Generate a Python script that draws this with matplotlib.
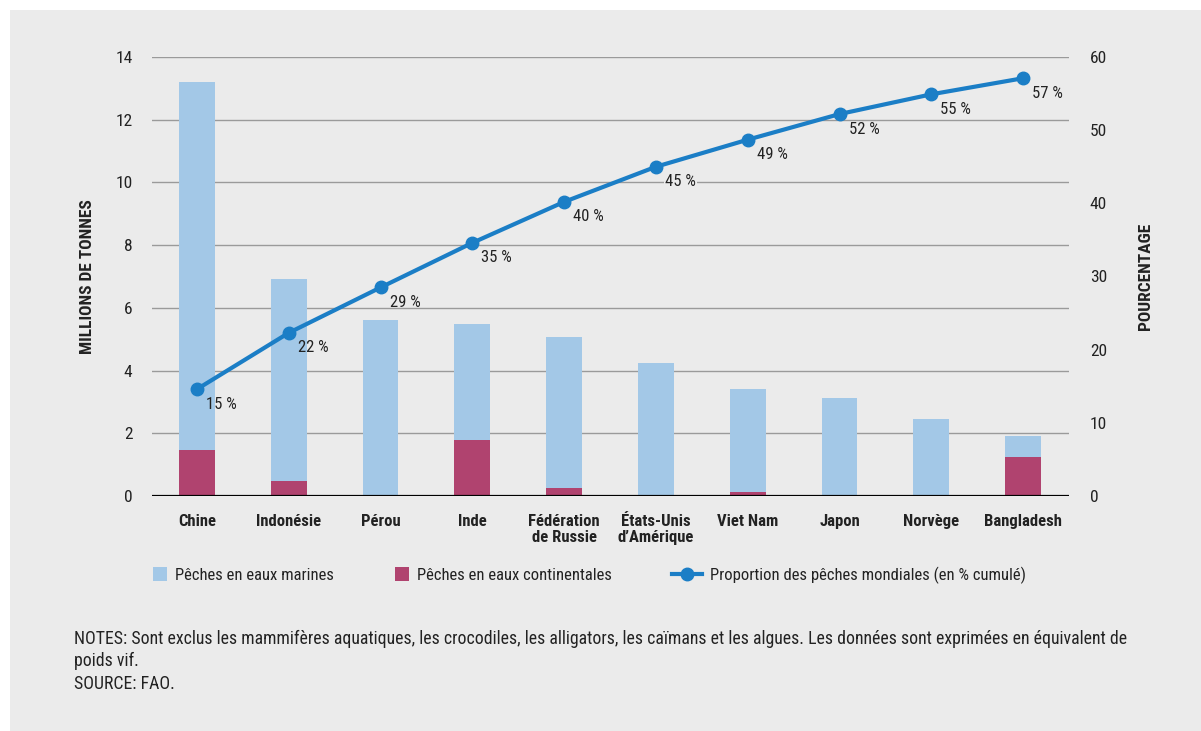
import numpy as np
import matplotlib.pyplot as plt
import matplotlib.patches as mpatches
from matplotlib import font_manager
from matplotlib.legend_handler import HandlerPatch

# Police condensée si disponible
noms = {f.name for f in font_manager.fontManager.ttflist}
police = 'DejaVu Sans'
for p in ['Liberation Sans Narrow', 'Roboto Condensed', 'DejaVu Sans Condensed']:
    if p in noms:
        police = p
        break
plt.rcParams['font.family'] = [police, 'DejaVu Sans']

# Données
pays = ['Chine', 'Indonésie', 'Pérou', 'Inde', 'Fédération\nde Russie',
        'États-Unis\nd’Amérique', 'Viet Nam', 'Japon', 'Norvège', 'Bangladesh']
marines_total = [13.2, 6.92, 5.61, 5.48, 5.07, 4.24, 3.41, 3.14, 2.45, 1.91]
continentales = [1.47, 0.48, 0.0, 1.78, 0.27, 0.0, 0.13, 0.0, 0.0, 1.25]
cumul_pct     = [14.6, 22.3, 28.5, 34.6, 40.2, 45.0, 48.7, 52.2, 54.9, 57.1]
etiquettes    = ['15 %', '22 %', '29 %', '35 %', '40 %', '45 %', '49 %',
                 '52 %', '55 %', '57 %']

fond      = '#ebebeb'
bleu_clr  = '#a3c8e7'
magenta   = '#b0436f'
bleu_fonc = '#1b7ec6'
gris_txt  = '#222222'

fig = plt.figure(figsize=(12.01, 7.31), dpi=100)
fig.patch.set_facecolor('white')
# panneau gris
fig.patches.append(plt.Rectangle((10/1201, 0), 1, 1 - 10/731,
                                 transform=fig.transFigure,
                                 facecolor=fond, edgecolor='none', zorder=-10))

ax1 = fig.add_axes([152/1201, 235/731, 917/1201, 439/731])
ax1.set_facecolor('none')
x = np.arange(len(pays))
marines = np.array(marines_total) - np.array(continentales)

for y in range(2, 15, 2):
    ax1.axhline(y, color='#9a9a9a', lw=1.0, zorder=1)
b_cont = ax1.bar(x, continentales, width=0.39, color=magenta, zorder=2)
b_mar = ax1.bar(x, marines, width=0.39, bottom=continentales, color=bleu_clr,
                zorder=2)
ax1.axhline(0, color='black', lw=1.6, zorder=3)

ax1.set_xlim(-0.49, 9.5)
ax1.set_ylim(0, 14)
ax1.set_yticks(range(0, 15, 2))
ax1.set_xticks(x)
ax1.set_xticklabels(pays, fontsize=12, fontweight='bold', color=gris_txt,
                    linespacing=1.05)
ax1.tick_params(axis='both', length=0, colors=gris_txt)
ax1.tick_params(axis='y', labelsize=12.5, pad=14)
ax1.tick_params(axis='x', pad=13)
for s in ax1.spines.values():
    s.set_visible(False)
ax1.set_ylabel('MILLIONS DE TONNES', fontsize=12.5, fontweight='bold',
               color=gris_txt)
ax1.yaxis.set_label_coords(-0.062, 0.5)

ax2 = ax1.twinx()
ax2.set_ylim(0, 60)
ax2.set_yticks(range(0, 61, 10))
ax2.tick_params(axis='y', length=0, labelsize=12.5, pad=15, colors=gris_txt)
for s in ax2.spines.values():
    s.set_visible(False)
ligne, = ax2.plot(x, cumul_pct, '-o', color=bleu_fonc, lw=3, markersize=9,
                  zorder=5)
for i, (xi, yi, t) in enumerate(zip(x, cumul_pct, etiquettes)):
    boite = None
    if i == 5:  # étiquette posée sur une ligne de grille
        boite = dict(facecolor=fond, edgecolor='none', pad=1)
    ax2.annotate(t, (xi, yi), xytext=(9, -15), textcoords='offset pixels',
                 ha='left', va='center', fontsize=12, color=gris_txt,
                 bbox=boite)
ax2.set_ylabel('POURCENTAGE', fontsize=12.5, fontweight='bold',
               color=gris_txt, rotation=90, labelpad=22)


# Légende : carrés à droite de la case, trois légendes placées séparément
def carre(legend, orig_handle, xdescent, ydescent, width, height, fontsize):
    c = 14 * 72 / fig.dpi
    return mpatches.Rectangle((width - c - xdescent,
                               -ydescent + (height - c) / 2), c, c)


entrees = [(b_mar.patches[0], 'Pêches en eaux marines', 137),
           (b_cont.patches[0], 'Pêches en eaux continentales', 379),
           (ligne, 'Proportion des pêches mondiales (en % cumulé)', 672)]
for h, lab, xpix in entrees:
    leg = fig.legend([h], [lab], loc='center left',
                     bbox_to_anchor=(xpix/1201, 1 - 575/731),
                     frameon=False, fontsize=12, handlelength=1.8,
                     handletextpad=0.5, borderpad=0, borderaxespad=0,
                     handler_map={mpatches.Rectangle: HandlerPatch(patch_func=carre)})
    for t in leg.get_texts():
        t.set_color(gris_txt)

fig.text(74/1201, 1 - 661/731,
         'NOTES: Sont exclus les mammifères aquatiques, les crocodiles, '
         'les alligators, les caïmans et les algues. Les données sont '
         'exprimées en équivalent de\npoids vif.\nSOURCE: FAO.',
         fontsize=12.75, color=gris_txt, va='center', linespacing=1.32)

plt.savefig('out.png', dpi=100, facecolor=fig.get_facecolor())
